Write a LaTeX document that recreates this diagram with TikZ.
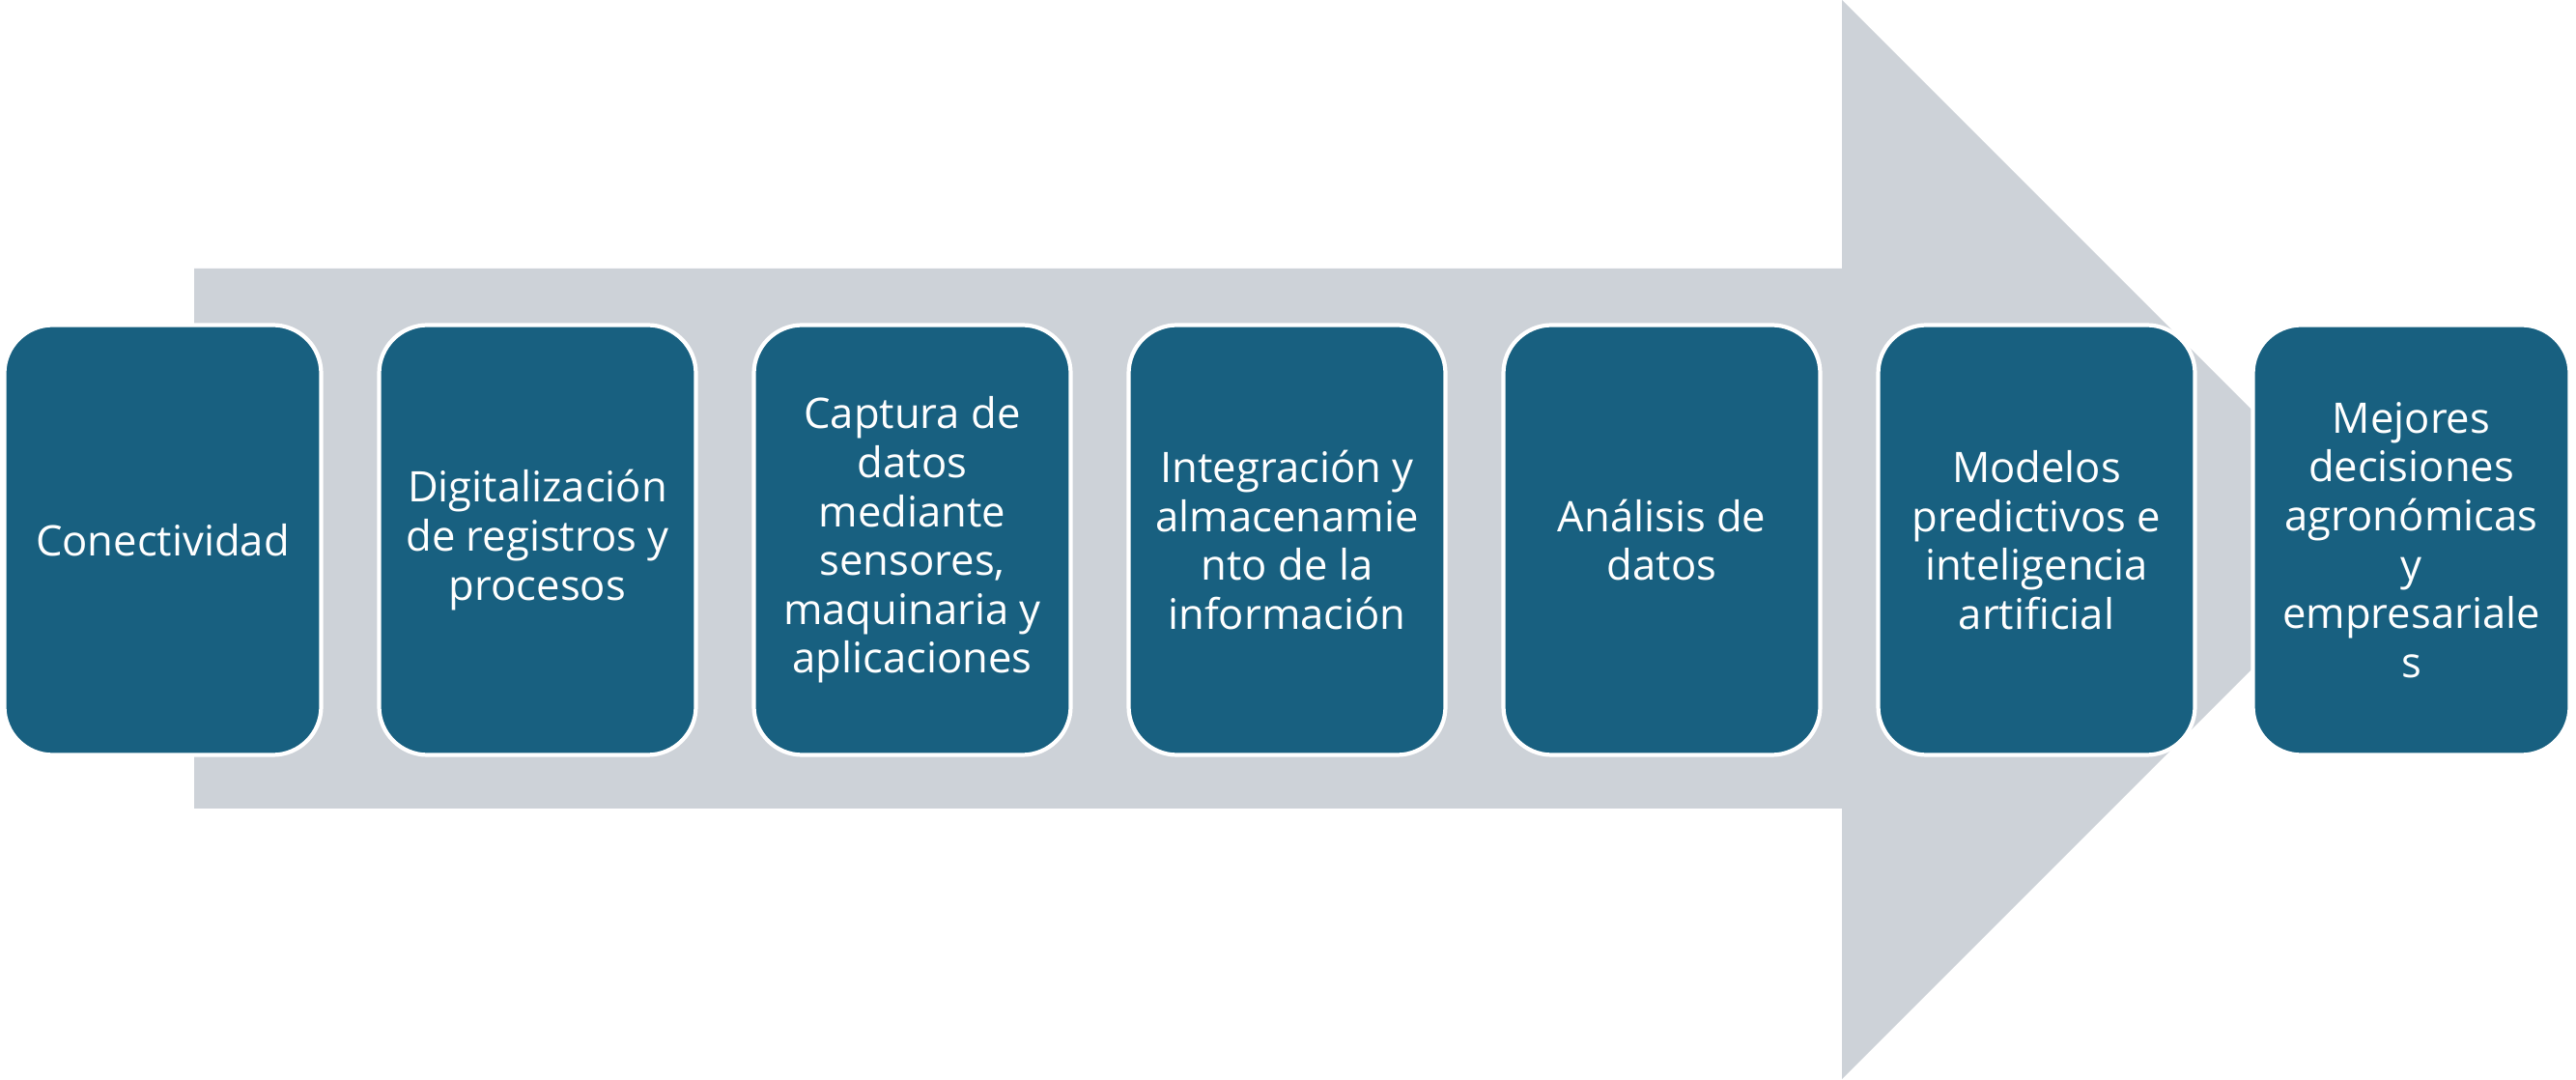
\documentclass[tikz,border=0pt]{standalone}
\usepackage{fontspec}
\setmainfont{Open Sans}
\usepackage{tikz}
\usetikzlibrary{positioning,shapes}
\definecolor{azulcaja}{RGB}{24,96,128}
\definecolor{grisflecha}{RGB}{205,210,216}

\begin{document}
\begin{tikzpicture}[node distance=0.6cm,
    etapa/.style={rectangle,rounded corners=0.5cm,fill=azulcaja,draw=white,line width=1.2pt,
                  minimum width=3.28cm,minimum height=4.45cm,inner sep=2pt,outer sep=0pt,align=center,
                  text=white,font=\fontsize{12.4}{14.4}\selectfont}]
    \useasboundingbox (0,0) rectangle (26.67,11.17);

          % flecha de fondo
          \fill[grisflecha] (2.01,8.39) -- (19.07,8.39) -- (19.07,11.17) -- (24.655,5.585)
                         -- (19.07,0) -- (19.07,2.80) -- (2.01,2.80) -- cycle;

          \node[etapa] (e_1) at (1.685,5.58) {Conectividad};
          \node[etapa] (e_2) [right=of e_1] {Digitalización\\de registros y\\procesos};
          \node[etapa] (e_3) [right=of e_2] {Captura de\\datos\\mediante\\sensores,\\maquinaria y\\aplicaciones};
          \node[etapa] (e_4) [right=of e_3] {Integración y\\almacenamie\\nto de la\\información};
          \node[etapa] (e_5) [right=of e_4] {Análisis de\\datos};
          \node[etapa] (e_6) [right=of e_5] {Modelos\\predictivos e\\inteligencia\\artificial};
          \node[etapa] (e_7) [right=of e_6] {Mejores\\decisiones\\agronómicas\\y\\empresariale\\s};
\end{tikzpicture}
\end{document}
